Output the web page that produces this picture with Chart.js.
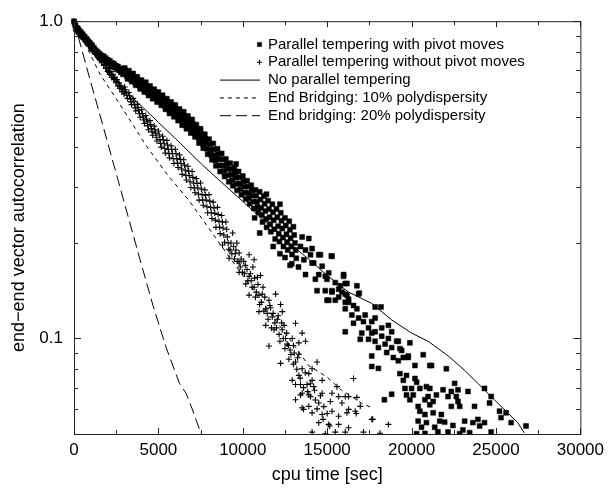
<!DOCTYPE html>
<html>
<head>
<meta charset="utf-8">
<script src="https://cdn.jsdelivr.net/npm/chart.js@4.4.1/dist/chart.umd.min.js"></script>
<style>
  html, body { margin: 0; padding: 0; background: #fff; }
  canvas { display: block; }
</style>
</head>
<body>
<canvas id="chart" width="610" height="490"></canvas>
<script>
const FONT = "'Liberation Sans', Arial, Helvetica, sans-serif";

// axes
const X_TICKS = [0, 2500, 5000, 7500, 10000, 12500, 15000, 17500, 20000, 22500, 25000, 27500, 30000];
const X_TICK_LABELS = ['0', '', '5000', '', '10000', '', '15000', '', '20000', '', '25000', '', '30000'];
const Y_TICKS = [0.05, 0.06, 0.07, 0.08, 0.09, 0.1, 0.2, 0.3, 0.4, 0.5, 0.6, 0.7, 0.8, 0.9, 1.0];
const Y_TICK_LABELS = ['', '', '', '', '', '0.1', '', '', '', '', '', '', '', '', '1.0'];

const SERIES_LABELS = [
  'Parallel tempering with pivot moves',
  'Parallel tempering without pivot moves',
  'No parallel tempering',
  'End Bridging: 10% polydispersity',
  'End bridging: 20% polydispersity',
];

// squares: parallel tempering with pivot moves
const PIVOT_PTS = [
  [0,1.0],[40,0.985],[80,0.97],[130,0.955],[170,0.94],[220,0.95],[260,0.925],[310,0.935],[360,0.915],[410,0.92],
  [460,0.9],[520,0.91],[570,0.89],[630,0.895],[680,0.875],[740,0.88],[790,0.86],[850,0.865],[900,0.845],[960,0.85],
  [1010,0.83],[1070,0.84],[1120,0.815],[1180,0.825],[1230,0.8],[1290,0.81],[1350,0.79],[1400,0.8],[1460,0.775],[1520,0.79],
  [1580,0.77],[1640,0.78],[1700,0.76],[1760,0.775],[1820,0.755],[1880,0.765],[1940,0.745],[2000,0.755],[2060,0.735],[2120,0.75],
  [2180,0.73],[2240,0.74],[2300,0.72],[2360,0.735],[2420,0.715],[2480,0.725],[2540,0.705],[2600,0.72],[2660,0.70],[2720,0.71],
  [2780,0.69],[2840,0.705],[2900,0.68],[2960,0.695],
  [110,0.945],[240,0.94],[380,0.925],[500,0.895],[650,0.88],[780,0.87],[920,0.855],[1050,0.82],[1200,0.81],[1330,0.8],
  [1480,0.785],[1620,0.765],[1780,0.76],[1920,0.755],[2080,0.745],[2220,0.725],[2380,0.72],[2520,0.715],[2680,0.705],[2820,0.695],[2980,0.685],
  [3000,0.712],[3090,0.688],[3170,0.658],[3250,0.698],[3330,0.668],[3420,0.645],[3500,0.684],[3590,0.652],[3660,0.628],
  [3740,0.668],[3840,0.641],[3920,0.612],[4000,0.652],[4080,0.622],[4170,0.598],[4250,0.642],[4330,0.608],[4420,0.583],
  [4500,0.625],[4590,0.599],[4660,0.57],[4750,0.61],[4840,0.585],[4920,0.556],[5000,0.598],[5080,0.568],[5170,0.543],
  [5250,0.584],[5340,0.553],[5420,0.528],[5500,0.57],[5590,0.541],[5660,0.512],[5750,0.556],[5830,0.527],[5920,0.5],
  [6000,0.544],[6090,0.512],[6170,0.486],[6250,0.529],[6340,0.502],[6410,0.47],[6500,0.518],[6590,0.485],[6660,0.458],
  [6750,0.503],[6830,0.476],[6920,0.444],[7000,0.49],[7090,0.458],[7170,0.432],[7250,0.472],[7340,0.445],[7410,0.413],
  [7500,0.458],[7590,0.425],[7660,0.398],[7750,0.44],[7830,0.412],[7920,0.381],[8000,0.425],[8090,0.393],[8170,0.366],
  [8250,0.412],[8340,0.378],[8410,0.35],[8500,0.396],[8590,0.367],[8660,0.336],[8750,0.383],[8830,0.351],[8920,0.324],
  [9000,0.368],[9090,0.342],[9170,0.312],[9250,0.357],[9340,0.328],[9410,0.303],[9500,0.345],[9590,0.321],[9660,0.293],
  [9750,0.336],[9830,0.308],[9920,0.284],[10000,0.325],[10090,0.301],[10170,0.275],[10250,0.314],[10340,0.288],[10410,0.266],
  [10500,0.304],[10590,0.282],[10660,0.257],[10750,0.294],[10830,0.27],[10920,0.25],[11000,0.29],[11090,0.258],[11170,0.233],
  [11250,0.281],[11340,0.252],[11410,0.224],[11500,0.272],[11590,0.241],[11660,0.217],[11750,0.265],[11830,0.236],[11920,0.206],
  [12000,0.256],[12090,0.226],[12170,0.202],[12250,0.249],[12340,0.222],[12410,0.195],[12500,0.24],[12590,0.213],[12660,0.19],
  [12750,0.234],[12830,0.207],[12920,0.184],[13000,0.225],[13090,0.2],[13170,0.179],
  [3045,0.70],[3130,0.672],[3295,0.683],[3375,0.656],[3545,0.668],[3625,0.64],[3790,0.655],[3880,0.626],[4040,0.637],[4125,0.61],
  [4290,0.625],[4375,0.595],[4545,0.612],[4625,0.585],[4795,0.597],[4880,0.57],[5040,0.583],[5125,0.555],[5295,0.568],[5380,0.54],
  [5545,0.555],[5625,0.526],[5790,0.541],[5875,0.513],[6045,0.528],[6130,0.499],[6295,0.515],[6375,0.486],[6545,0.501],[6625,0.471],
  [6790,0.489],[6875,0.46],[7045,0.474],[7130,0.445],[7295,0.458],[7375,0.429],[7545,0.441],[7625,0.411],[7790,0.426],[7875,0.396],
  [8045,0.409],[8130,0.379],[8295,0.395],[8375,0.364],[8545,0.381],[8625,0.351],[8790,0.367],[8875,0.337],[9045,0.355],[9130,0.327],
  [9295,0.342],[9375,0.315],[9545,0.333],[9625,0.307],[9790,0.322],[9875,0.296],[10045,0.313],[10130,0.288],[10295,0.301],[10375,0.277],
  [10545,0.293],[10625,0.27],[10790,0.282],[10875,0.26],[11045,0.274],[11130,0.245],[11295,0.266],[11375,0.238],[11545,0.256],[11625,0.229],
  [11790,0.25],[11875,0.221],[12045,0.241],[12130,0.214],[12295,0.235],[12375,0.208],[12545,0.227],[12625,0.201],[12790,0.22],[12875,0.195],
  [13045,0.212],[13130,0.19],
  [9600,0.355],[10700,0.24],[11400,0.285],[12200,0.265],[12800,0.17],[11000,0.215],
  [11800,0.195],[12200,0.185],[12500,0.18],[12900,0.172],[13300,0.168],
  [13420,0.195],[13515,0.209],[13620,0.177],[13715,0.19],[13715,0.159],[13910,0.2066],[14010,0.1836],[14105,0.192],[14105,0.173],
  [14200,0.173],[14300,0.1537],[14400,0.1415],[14500,0.1836],[14500,0.159],[14600,0.1836],[14700,0.169],[14890,0.1572],[14890,0.1415],
  [14990,0.1537],[14990,0.132],[15090,0.161],[15090,0.132],[15245,0.182],[15285,0.1815],[15285,0.1415],[15285,0.14],[15480,0.15],
  [15480,0.132],[15680,0.143],[15680,0.135],[15778,0.1466],[15875,0.14],[15973,0.159],[15973,0.157],[16070,0.149],[16070,0.138],
  [16070,0.13],[16070,0.124],[16070,0.105],[16170,0.137],[16170,0.149],[16268,0.13],[16268,0.133],[16460,0.1186],[16560,0.127],
  [16560,0.1117],[16760,0.1466],[16760,0.124],[16860,0.138],[16860,0.116],[16900,0.139],[16960,0.0994],[17050,0.104],[17150,0.113],
  [17250,0.1186],[17450,0.108],[17450,0.0994],[17640,0.104],[17640,0.113],[17640,0.0881],[17640,0.0816],[17840,0.1257],[17840,0.116],
  [17840,0.105],[17840,0.098],[18035,0.0936],[18035,0.0805],[18190,0.1257],[18230,0.108],[18230,0.1017],[18390,0.0641],[18430,0.096],
  [18525,0.0903],[18625,0.11],[18625,0.1],[18820,0.105],[18820,0.0936],[18820,0.0667],[18920,0.0871],[19115,0.098],[19214,0.0851],
  [19214,0.098],[19310,0.0929],[19310,0.0775],[19410,0.0917],[19510,0.0871],[19510,0.0738],[19610,0.0696],[19700,0.0765],[19700,0.0664],
  [19800,0.0881],[19800,0.0871],[19900,0.0969],[19900,0.0641],[20000,0.0696],[20100,0.0664],[20200,0.0822],[20200,0.0748],[20300,0.0728],
  [20300,0.0501],[20390,0.0611],[20390,0.0549],[20490,0.0696],[20490,0.059],[20590,0.0525],[20690,0.0889],[20790,0.0641],[20790,0.0576],
  [20790,0.0502],[20880,0.0705],[20880,0.0543],[20980,0.0656],[21080,0.0822],[21080,0.0696],[21080,0.0618],[21180,0.0822],[21280,0.0633],
  [21280,0.0583],[21370,0.0525],[21470,0.0664],[21560,0.0508],[21670,0.0549],[21765,0.0576],[21865,0.0689],[21960,0.0545],[22060,0.0803],
  [22160,0.0656],[22160,0.0507],[22356,0.0681],[22356,0.0611],[22450,0.0532],[22550,0.0722],[22650,0.0656],[22750,0.0689],[22750,0.0633],
  [22850,0.0611],[22850,0.0501],[23040,0.0515],[23145,0.0549],[23340,0.0681],[23440,0.0505],[23630,0.0543],[23730,0.0611],[23930,0.0556],
  [24030,0.053],[24320,0.0696],[24320,0.0543],[24620,0.0626],[24715,0.0656],[24715,0.0507],[25210,0.059],[25300,0.0563],[25600,0.0583],
  [25900,0.0543],[26780,0.053],
];

// crosses: parallel tempering without pivot moves
const NO_PIVOT_PTS = [
  [0,1.0],[50,0.975],[100,0.955],[150,0.94],[200,0.945],[250,0.925],[300,0.93],[350,0.91],[400,0.915],[450,0.895],
  [500,0.905],[560,0.885],[620,0.89],[680,0.865],[740,0.875],[800,0.85],[860,0.86],[920,0.835],[980,0.845],[1040,0.82],
  [1100,0.83],[1160,0.805],[1220,0.815],[1280,0.79],[1340,0.8],[1400,0.77],[1460,0.785],[1520,0.755],[1580,0.77],[1640,0.74],
  [1700,0.755],[1760,0.725],[1820,0.74],[1880,0.71],[1940,0.725],[2000,0.695],[2060,0.71],[2120,0.68],[2180,0.695],[2240,0.665],
  [2300,0.68],[2360,0.655],[2420,0.665],[2480,0.64],[2540,0.655],[2600,0.625],[2660,0.64],[2720,0.615],[2780,0.625],[2840,0.6],
  [2900,0.615],[2960,0.59],
  [120,0.94],[270,0.915],[420,0.9],[580,0.875],[720,0.86],[880,0.84],[1020,0.825],[1180,0.8],[1320,0.785],[1480,0.765],
  [1620,0.75],[1780,0.73],[1920,0.71],[2080,0.69],[2220,0.675],[2380,0.66],[2520,0.645],[2680,0.625],[2820,0.61],[2980,0.6],
  [3000,0.62],[3090,0.597],[3170,0.571],[3250,0.596],[3340,0.568],[3410,0.546],[3500,0.571],[3590,0.546],[3660,0.521],
  [3750,0.547],[3830,0.524],[3920,0.498],[4000,0.526],[4090,0.499],[4170,0.476],[4250,0.504],[4340,0.481],[4410,0.455],
  [4500,0.486],[4590,0.459],[4660,0.437],[4750,0.467],[4830,0.444],[4920,0.419],[5000,0.451],[5090,0.424],[5170,0.401],
  [5250,0.434],[5340,0.411],[5410,0.384],[5500,0.421],[5590,0.394],[5660,0.371],[5750,0.405],[5830,0.383],[5920,0.356],
  [6000,0.395],[6090,0.369],[6170,0.346],[6250,0.379],[6340,0.356],[6410,0.329],[6500,0.366],[6590,0.339],[6660,0.316],
  [6750,0.349],[6830,0.326],[6920,0.299],[7000,0.336],[7090,0.309],[7170,0.288],[7250,0.319],[7340,0.298],[7410,0.273],
  [7500,0.309],[7590,0.284],[7660,0.263],[7750,0.294],[7830,0.273],[7920,0.249],[8000,0.284],[8090,0.259],[8170,0.239],
  [8250,0.269],[8340,0.248],[8410,0.224],[8500,0.259],[8590,0.234],[8660,0.214],[8750,0.244],[8830,0.223],[8920,0.201],
  [9000,0.233],[9090,0.209],[9170,0.191],
  [3045,0.608],[3130,0.584],[3295,0.582],[3375,0.557],[3545,0.558],[3625,0.533],[3790,0.535],[3875,0.511],[4045,0.512],[4130,0.488],
  [4295,0.492],[4375,0.468],[4545,0.472],[4625,0.448],[4790,0.455],[4875,0.431],[5045,0.438],[5130,0.412],[5295,0.422],[5375,0.397],
  [5545,0.407],[5625,0.382],[5790,0.394],[5875,0.369],[6045,0.382],[6130,0.357],[6295,0.367],[6375,0.342],[6545,0.352],[6625,0.327],
  [6790,0.337],[6875,0.312],[7045,0.322],[7130,0.298],[7295,0.308],[7375,0.285],[7545,0.296],[7625,0.273],[7790,0.283],[7875,0.26],
  [8045,0.271],[8130,0.249],[8295,0.258],[8375,0.236],[8545,0.246],[8625,0.224],[8790,0.233],[8875,0.212],[9045,0.221],[9130,0.2],
  [8800,0.197],[9194,0.179],[9300,0.2],[9400,0.215],[9500,0.178],[9590,0.19],[9650,0.2],[9784,0.186],[9784,0.173],[9784,0.1616],
  [9980,0.1616],[10050,0.175],[10180,0.1486],[10250,0.165],[10374,0.1836],[10374,0.157],[10374,0.137],[10500,0.152],[10600,0.168],
  [10670,0.177],[10670,0.145],[10800,0.14],[10866,0.156],[10960,0.137],[10960,0.1215],[11050,0.158],[11100,0.13],[11200,0.145],
  [11357,0.124],[11357,0.11],[11450,0.12],[11550,0.132],[11550,0.0947],[11650,0.125],[11750,0.117],[11850,0.1065],[11900,0.112],
  [11945,0.138],[12100,0.118],[12150,0.103],[12240,0.128],[12240,0.0835],[12340,0.1215],[12340,0.1065],[12450,0.11],[12535,0.1],
  [12630,0.096],[12730,0.086],[12800,0.092],[12930,0.1],[12930,0.0738],[13000,0.095],[13125,0.1117],[13125,0.0843],[13125,0.0716],
  [9250,0.19],[9350,0.185],[9450,0.195],[9550,0.185],[9700,0.175],[9850,0.168],[9900,0.178],[10100,0.16],[10150,0.17],[10300,0.152],
  [10450,0.16],[10550,0.145],[10700,0.155],[10750,0.135],[10900,0.148],[11000,0.128],[11150,0.138],[11250,0.122],[11300,0.135],[11500,0.115],
  [11600,0.127],[11700,0.108],[11800,0.12],[12000,0.108],[12050,0.115],[12200,0.098],[12300,0.112],[12400,0.1],[12500,0.093],[12600,0.104],
  [12700,0.095],[12850,0.089],[13000,0.083],[13050,0.09],[13200,0.08],[13250,0.087],[13400,0.075],[13600,0.07],[13700,0.078],[13850,0.068],
  [14000,0.072],[14300,0.064],[14400,0.06],[14600,0.066],[14800,0.061],[15000,0.058],
  [13125,0.0641],[13320,0.0969],[13320,0.0892],[13320,0.0765],[13420,0.0716],[13420,0.0664],[13515,0.104],[13515,0.0803],[13515,0.0672],
  [13515,0.0605],[13600,0.0598],[13715,0.098],[13810,0.0716],[13910,0.0775],[13910,0.0664],[13910,0.0611],[14010,0.0656],[14105,0.0803],
  [14105,0.0738],[14105,0.0583],[14105,0.0507],[14200,0.0705],[14250,0.0687],[14400,0.0843],[14500,0.0626],[14500,0.0543],[14700,0.0738],
  [14700,0.0672],[14700,0.0576],[14760,0.0556],[14890,0.0501],[15090,0.0536],[15150,0.053],[15187,0.0633],[15285,0.0672],[15285,0.059],
  [15480,0.0507],[15580,0.0705],[15680,0.0656],[15680,0.0569],[15680,0.0536],[15875,0.0626],[16070,0.0656],[16070,0.0507],[16170,0.0583],
  [16268,0.0656],[16268,0.0598],[16268,0.0523],[16560,0.0748],[16660,0.059],[16720,0.058],[16760,0.0652],[16960,0.0611],[17150,0.0507],
  [17640,0.0556],[17700,0.0556],[18130,0.0503],[18625,0.0536],
];

// lines
const NO_PT_LINE = [
  [0,1.0],[300,0.94],[800,0.87],[1500,0.77],[2200,0.69],[3100,0.6],[4000,0.54],[5000,0.48],[6000,0.427],[7000,0.379],
  [7620,0.352],[8500,0.319],[9300,0.292],[10180,0.265],[11000,0.242],[12140,0.214],[13000,0.195],[14000,0.176],[15000,0.158],
  [16270,0.14],[17640,0.129],[18820,0.1144],[20000,0.104],[20980,0.098],[22160,0.0882],[23145,0.0793],[23930,0.0722],
  [24915,0.064],[25700,0.0583],[26290,0.0543],[26680,0.0504],
];
const EB10_LINE = [
  [0,1.0],[500,0.88],[1000,0.78],[1530,0.682],[2500,0.57],[3400,0.48],[4280,0.405],[5500,0.33],[6840,0.271],[8000,0.222],
  [9000,0.187],[10000,0.158],[11000,0.134],[12000,0.113],[13000,0.096],[13910,0.082],[14990,0.0756],[15850,0.0687],
  [16440,0.0657],[17030,0.0625],[17650,0.0605],
];
const EB20_LINE = [
  [0,1.0],[500,0.8],[1000,0.64],[1500,0.515],[2000,0.413],[2600,0.317],[3200,0.243],[3890,0.179],[4680,0.127],[5460,0.0936],
  [6250,0.0722],[6640,0.0672],[7000,0.06],[7430,0.0518],[7550,0.05],
];

const toXY = pts => pts.map(([x, y]) => ({ x, y }));

// inward ticks on all four sides plus the frame
const framePlugin = {
  id: 'frame',
  afterDatasetsDraw(chart) {
    const { ctx, chartArea: a, scales: { x, y } } = chart;
    ctx.save();
    ctx.strokeStyle = '#222';
    ctx.lineWidth = 1;
    ctx.setLineDash([]);
    ctx.beginPath();
    X_TICKS.forEach((v, i) => {
      const px = Math.round(x.getPixelForValue(v)) + 0.5;
      const len = X_TICK_LABELS[i] ? 6 : 4;
      ctx.moveTo(px, a.bottom); ctx.lineTo(px, a.bottom - len);
      ctx.moveTo(px, a.top); ctx.lineTo(px, a.top + len);
    });
    Y_TICKS.forEach((v, i) => {
      const py = Math.round(y.getPixelForValue(v)) + 0.5;
      const len = Y_TICK_LABELS[i] ? 7 : 4;
      ctx.moveTo(a.left, py); ctx.lineTo(a.left + len, py);
      ctx.moveTo(a.right, py); ctx.lineTo(a.right - len, py);
    });
    ctx.stroke();
    ctx.strokeRect(a.left + 0.5, a.top + 0.5, a.right - a.left, a.bottom - a.top);
    ctx.restore();
  }
};

// legend inside the plot, top right
const legendPlugin = {
  id: 'insideLegend',
  afterDraw(chart) {
    const ctx = chart.ctx;
    chart.data.datasets.forEach((ds, i) => {
      const yy = 44.5 + i * 17.8;
      ctx.save();
      ctx.strokeStyle = '#000';
      ctx.fillStyle = '#000';
      ctx.lineWidth = ds.borderWidth;
      if (ds.showLine) {
        ctx.setLineDash(ds.borderDash || []);
        ctx.beginPath();
        ctx.moveTo(220, yy);
        ctx.lineTo(260, yy);
        ctx.stroke();
      } else {
        Chart.helpers.drawPoint(ctx, {
          pointStyle: ds.pointStyle, radius: ds.pointRadius * 0.85, borderWidth: ds.borderWidth, rotation: 0
        }, 259.5, yy);
      }
      ctx.setLineDash([]);
      ctx.font = '15px ' + FONT;
      ctx.textAlign = 'left';
      ctx.textBaseline = 'middle';
      ctx.fillText(ds.label, 268, yy);
      ctx.restore();
    });
  }
};

const clipBox = { left: 6, top: 6, right: 0, bottom: 0 };

new Chart(document.getElementById('chart'), {
  type: 'scatter',
  data: {
    datasets: [
      {
        label: SERIES_LABELS[0], data: toXY(PIVOT_PTS),
        pointStyle: 'rect', pointRadius: 3.5, pointHoverRadius: 3.5,
        backgroundColor: '#000', borderColor: '#000', borderWidth: 0.5, clip: clipBox,
      },
      {
        label: SERIES_LABELS[1], data: toXY(NO_PIVOT_PTS),
        pointStyle: 'cross', pointRadius: 3, pointHoverRadius: 3,
        backgroundColor: '#000', borderColor: '#000', borderWidth: 1.1, clip: clipBox,
      },
      {
        label: SERIES_LABELS[2], data: toXY(NO_PT_LINE), showLine: true,
        pointRadius: 0, borderColor: '#000', borderWidth: 1, fill: false, clip: clipBox,
      },
      {
        label: SERIES_LABELS[3], data: toXY(EB10_LINE), showLine: true, borderDash: [4, 4],
        pointRadius: 0, borderColor: '#000', borderWidth: 1, fill: false, clip: clipBox,
      },
      {
        label: SERIES_LABELS[4], data: toXY(EB20_LINE), showLine: true, borderDash: [11, 5],
        pointRadius: 0, borderColor: '#000', borderWidth: 1, fill: false, clip: clipBox,
      },
    ],
  },
  options: {
    responsive: false,
    animation: false,
    devicePixelRatio: 1,
    layout: { padding: { top: 13, right: 27, left: 0, bottom: 0 } },
    plugins: { legend: { display: false }, tooltip: { enabled: false } },
    scales: {
      x: {
        type: 'linear', min: 0, max: 30000,
        grid: { display: false, drawTicks: false },
        border: { display: false },
        afterBuildTicks: s => { s.ticks = X_TICKS.map(v => ({ value: v })); },
        afterFit: s => { s.height = 56; },
        ticks: {
          autoSkip: false, maxRotation: 0, padding: 6, color: '#000',
          font: { family: FONT, size: 17 },
          callback: (v, i) => X_TICK_LABELS[i],
        },
        title: {
          display: true, text: 'cpu time [sec]', color: '#000',
          font: { family: FONT, size: 18 }, padding: { top: 0, bottom: 4 },
        },
      },
      y: {
        type: 'logarithmic', min: 0.05, max: 1,
        grid: { display: false, drawTicks: false },
        border: { display: false },
        afterBuildTicks: s => { s.ticks = Y_TICKS.map(v => ({ value: v })); },
        afterFit: s => { s.width = 74; },
        ticks: {
          autoSkip: false, padding: 11, color: '#000',
          font: { family: FONT, size: 17 },
          callback: (v, i) => Y_TICK_LABELS[i],
        },
        title: {
          display: true, text: 'end\u2212end vector autocorrelation', color: '#000',
          font: { family: FONT, size: 18 }, padding: { top: 8, bottom: 0 },
        },
      },
    },
  },
  plugins: [framePlugin, legendPlugin],
});
</script>
</body>
</html>
